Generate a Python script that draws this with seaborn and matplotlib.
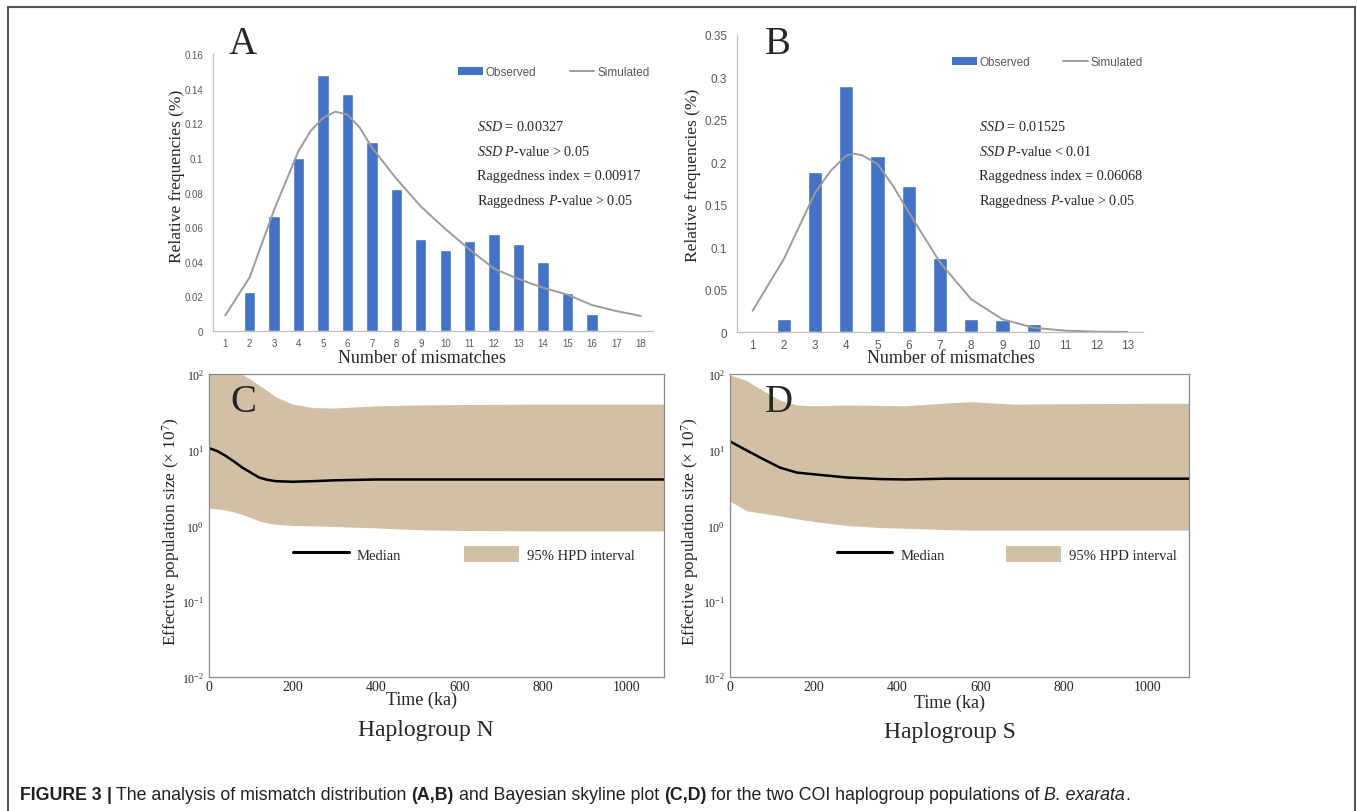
import matplotlib
matplotlib.use("Agg")
import numpy as np
import matplotlib.pyplot as plt
import seaborn as sns
from matplotlib.patches import Patch, Rectangle
from matplotlib.lines import Line2D
from matplotlib.ticker import FuncFormatter, MultipleLocator, LogLocator, NullFormatter

# ---- mismatch distribution, haplogroup N (A) ----
mism_a = list(range(1, 19))
obs_a = [0, 0.0226, 0.0665, 0.100, 0.148, 0.137, 0.109, 0.082, 0.053,
         0.047, 0.052, 0.056, 0.050, 0.040, 0.022, 0.0096, 0.0008, 0]
sim_a_x = [1, 2, 3, 4, 4.5, 5, 5.5, 6, 6.5, 7, 8, 9, 10, 11, 12, 13, 14, 15, 16, 17, 18]
sim_a_y = [0.009, 0.031, 0.070, 0.104, 0.1157, 0.123, 0.1267, 0.125, 0.1176, 0.106,
           0.088, 0.072, 0.059, 0.047, 0.036, 0.030, 0.025, 0.021, 0.015, 0.0115, 0.0087]
stats_a = [r"$\mathit{SSD}$ = 0.00327",
           r"$\mathit{SSD}$ $\mathit{P}$-value > 0.05",
           "Raggedness index = 0.00917",
           r"Raggedness $\mathit{P}$-value > 0.05"]

# ---- mismatch distribution, haplogroup S (B) ----
mism_b = list(range(1, 14))
obs_b = [0, 0.0157, 0.188, 0.290, 0.207, 0.172, 0.087, 0.0157, 0.0138, 0.0098, 0.001, 0, 0]
sim_b_x = [1, 2, 2.5, 3, 3.5, 4, 4.25, 4.5, 5, 5.5, 6, 7, 8, 9, 10, 11, 12, 13]
sim_b_y = [0.025, 0.086, 0.125, 0.164, 0.190, 0.208, 0.210, 0.2084, 0.198, 0.172,
           0.141, 0.082, 0.0385, 0.015, 0.005, 0.0016, 0.0004, 0.0001]
stats_b = [r"$\mathit{SSD}$ = 0.01525",
           r"$\mathit{SSD}$ $\mathit{P}$-value < 0.01",
           "Raggedness index = 0.06068",
           r"Raggedness $\mathit{P}$-value > 0.05"]

# ---- Bayesian skyline, haplogroup N (C) ----
time_c = [0, 20, 40, 60, 80, 100, 120, 140, 160, 200, 250, 300, 400, 500, 600, 800, 1000, 1090]
median_c = [10.5, 9.6, 8.3, 7.0, 5.8, 5.0, 4.3, 4.0, 3.85, 3.78, 3.85, 3.95,
            4.05, 4.05, 4.05, 4.05, 4.05, 4.05]
upper_c = [140, 130, 120, 110, 98, 85, 71, 60, 50, 40, 36, 35.5, 38, 39, 39.5, 40, 40, 40]
lower_c = [1.7, 1.65, 1.6, 1.5, 1.4, 1.27, 1.15, 1.08, 1.04, 1.0, 0.99, 0.97,
           0.93, 0.88, 0.86, 0.85, 0.85, 0.85]

# ---- Bayesian skyline, haplogroup S (D) ----
time_d = [0, 40, 80, 120, 160, 200, 280, 360, 420, 520, 580, 680, 800, 1000, 1100]
median_d = [12.9, 9.8, 7.5, 5.8, 5.0, 4.75, 4.3, 4.1, 4.05, 4.15, 4.15, 4.15, 4.15, 4.15, 4.15]
upper_d = [97, 82, 60, 45, 39, 38, 39, 38.5, 38, 41.5, 43, 40, 40.5, 41, 41]
lower_d = [2.1, 1.56, 1.45, 1.34, 1.22, 1.13, 1.0, 0.94, 0.92, 0.88, 0.87, 0.87, 0.87, 0.87, 0.87]

caption_parts = [
    ("FIGURE 3", "bold", "normal", True),
    ("|", "bold", "normal", True),
    ("The analysis of mismatch distribution", "normal", "normal", True),
    ("(A,B)", "bold", "normal", True),
    ("and Bayesian skyline plot", "normal", "normal", True),
    ("(C,D)", "bold", "normal", True),
    ("for the two COI haplogroup populations of", "normal", "normal", True),
    ("B. exarata", "normal", "italic", False),
    (".", "normal", "normal", False),
]

BAR = "#4472C4"
SIM = "#9C9C9C"
HPD = "#D1C0A6"
AXGRAY = "#BFBFBF"
TXTGRAY = "#595959"

sns.set_style("white")
plt.rcParams["font.family"] = ["Liberation Serif", "DejaVu Serif"]
plt.rcParams["mathtext.fontset"] = "custom"
plt.rcParams["mathtext.rm"] = "Liberation Serif"
plt.rcParams["mathtext.it"] = "Liberation Serif:italic"
plt.rcParams["mathtext.bf"] = "Liberation Serif:bold"

W, H = 1357, 812
fig = plt.figure(figsize=(W / 100, H / 100), dpi=100)


def box(l, t, r, b):
    return [l / W, 1 - b / H, (r - l) / W, (b - t) / H]


def ftext(x, y, s, **kw):
    return fig.text(x / W, 1 - y / H, s, **kw)


def mismatch_panel(rect, cats, obs, sx, sy, ymax, ystep, tsize, leg_xy, stats, stats_x):
    ax = fig.add_axes(box(*rect))
    sns.barplot(x=cats, y=obs, native_scale=True, width=0.46, color=BAR,
                saturation=1, errorbar=None, ax=ax)
    sns.lineplot(x=sx, y=sy, color=SIM, lw=1.4, ax=ax)
    ax.set_xlim(cats[0] - 0.5, cats[-1] + 0.5)
    ax.set_ylim(0, ymax)
    ax.set_xlabel("")
    ax.set_ylabel("")
    for s in ("top", "right"):
        ax.spines[s].set_visible(False)
    for s in ("left", "bottom"):
        ax.spines[s].set_color(AXGRAY)
        ax.spines[s].set_linewidth(0.9)
    ax.set_xticks(cats)
    ax.set_xticklabels([str(c) for c in cats])
    ax.xaxis.set_minor_locator(MultipleLocator(1, offset=0.5))
    ax.yaxis.set_major_locator(MultipleLocator(ystep))
    ax.yaxis.set_major_formatter(FuncFormatter(lambda v, p: f"{v:g}"))
    ax.tick_params(axis="x", which="major", length=0, pad=5,
                   labelsize=tsize, labelcolor=TXTGRAY)
    ax.tick_params(axis="x", which="minor", length=3, color=AXGRAY, direction="out")
    ax.tick_params(axis="y", which="major", length=3, color=AXGRAY, direction="out",
                   pad=4, labelsize=tsize, labelcolor=TXTGRAY)
    for lab in ax.get_xticklabels() + ax.get_yticklabels():
        lab.set_family("Liberation Sans")
    handles = [Patch(facecolor=BAR, edgecolor="none"), Line2D([], [], color=SIM, lw=1.4)]
    ax.legend(handles, ["Observed", "Simulated"], ncol=2, frameon=False,
              loc="center left", bbox_to_anchor=leg_xy, borderpad=0, borderaxespad=0,
              handlelength=2.1, handleheight=0.6, handletextpad=0.25, columnspacing=2.8,
              prop={"family": "Liberation Sans", "size": 8.5}, labelcolor=TXTGRAY)
    for i, s in enumerate(stats):
        ftext(stats_x, 127 + 24.7 * i, s, fontsize=10.2, va="center", ha="left")
    return ax


def skyline_panel(rect, t, med, lo, hi, xmax, leg_xy, colsp):
    ax = fig.add_axes(box(*rect))
    ax.set_yscale("log")
    ax.fill_between(t, lo, hi, color=HPD, lw=0)
    sns.lineplot(x=t, y=med, color="black", lw=1.8, ax=ax)
    ax.set_xlim(0, xmax)
    ax.set_ylim(1e-2, 1e2)
    ax.set_xlabel("")
    ax.set_ylabel("")
    for s in ax.spines.values():
        s.set_color("#8A8A8A")
        s.set_linewidth(0.9)
    ax.xaxis.set_major_locator(MultipleLocator(200))
    ax.xaxis.set_minor_locator(MultipleLocator(100))
    ax.yaxis.set_major_locator(LogLocator(base=10, numticks=10))
    ax.yaxis.set_major_formatter(FuncFormatter(lambda v, p: r"10$^{%d}$" % round(np.log10(v))))
    ax.yaxis.set_minor_locator(LogLocator(base=10, subs=np.arange(2, 10), numticks=10))
    ax.yaxis.set_minor_formatter(NullFormatter())
    ax.tick_params(axis="x", which="both", direction="in", length=3, color="#666666",
                   labelsize=10, pad=2)
    ax.tick_params(axis="y", which="major", direction="out", length=3, color="#666666",
                   labelsize=8.5, pad=0.5)
    ax.tick_params(axis="y", which="minor", direction="out", length=1.8, color="#666666")
    handles = [Line2D([], [], color="black", lw=2.2), Patch(facecolor=HPD, edgecolor="none")]
    ax.legend(handles, ["Median", "95% HPD interval"], ncol=2, frameon=False,
              loc="center left", bbox_to_anchor=leg_xy, borderpad=0, borderaxespad=0,
              handlelength=3.8, handleheight=1.3, handletextpad=0.55, columnspacing=colsp,
              fontsize=10.5)
    return ax


mismatch_panel((213, 55, 653, 332), mism_a, obs_a, sim_a_x, sim_a_y, 0.16, 0.02, 7,
               (0.557, 0.935), stats_a, 477)
mismatch_panel((737, 36, 1143, 333), mism_b, obs_b, sim_b_x, sim_b_y, 0.35, 0.05, 8.5,
               (0.529, 0.909), stats_b, 979)
skyline_panel((209, 375, 664, 678), time_c, median_c, lower_c, upper_c, 1090,
              (0.185, 0.406), 4.3)
skyline_panel((730, 375, 1189, 678), time_d, median_d, lower_d, upper_d, 1100,
              (0.233, 0.406), 4.2)

# panel letters
for x, y, s in [(229, 54, "A"), (765, 54, "B"), (230, 412, "C"), (765, 412, "D")]:
    ftext(x, y, s, fontsize=28, ha="left", va="baseline")

# axis titles
ftext(177, 176, "Relative frequencies (%)", fontsize=12.5, rotation=90, ha="center", va="center")
ftext(693, 175, "Relative frequencies (%)", fontsize=12.5, rotation=90, ha="center", va="center")
ftext(422, 359, "Number of mismatches", fontsize=13, ha="center", va="center")
ftext(951, 359, "Number of mismatches", fontsize=13, ha="center", va="center")
ylab = r"Effective population size ($\times$ 10$^{7}$)"
ftext(171, 532, ylab, fontsize=12.5, rotation=90, ha="center", va="center")
ftext(690, 532, ylab, fontsize=12.5, rotation=90, ha="center", va="center")
ftext(421, 700, "Time (ka)", fontsize=13, ha="center", va="center")
ftext(950, 703, "Time (ka)", fontsize=13, ha="center", va="center")
ftext(426, 731, "Haplogroup N", fontsize=17, ha="center", va="center")
ftext(950, 733, "Haplogroup S", fontsize=17, ha="center", va="center")

# outer frame
fig.add_artist(Rectangle((8 / W, -0.05), (1355 - 8) / W, 1 - 8 / H + 0.05,
                         transform=fig.transFigure, fill=False, edgecolor="#555555", lw=1.5))

# caption with mixed weights
renderer = fig.canvas.get_renderer()
cap_kw = dict(family="Liberation Sans", fontsize=12.8, va="baseline", color="#231F20")


def text_width(s, **kw):
    t = fig.text(0, 0, s, **kw)
    w = t.get_window_extent(renderer).width
    t.remove()
    return w


space = text_width("x x", **cap_kw) - text_width("xx", **cap_kw)
x = 20
for s, weight, style, gap in caption_parts:
    t = ftext(x, 800, s, fontweight=weight, fontstyle=style, **cap_kw)
    x += t.get_window_extent(renderer).width + (space if gap else 0)

fig.savefig("out.png", dpi=100)
